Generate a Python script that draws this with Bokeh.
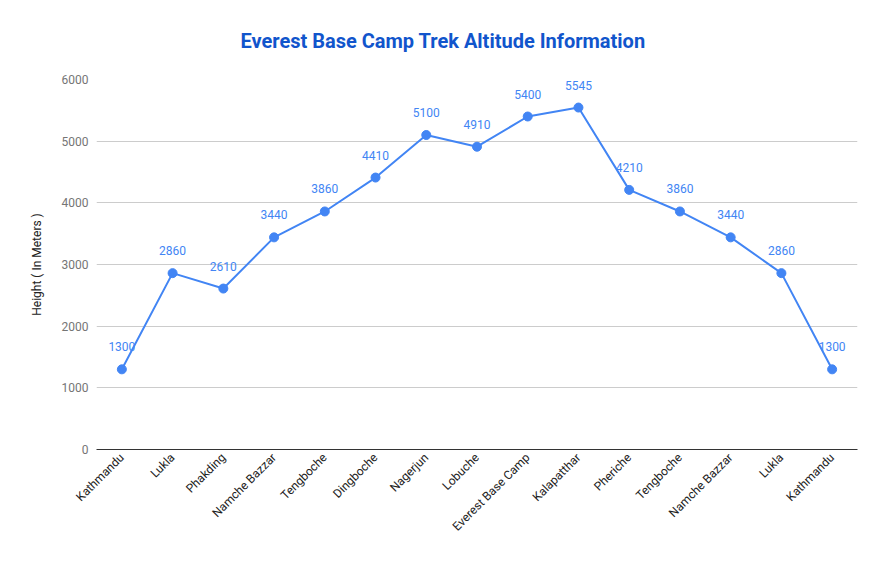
import math
from bokeh.plotting import figure
from bokeh.models import Range1d, FixedTicker, ColumnDataSource, LabelSet
from bokeh.core.properties import value
from bokeh.embed import file_html
from bokeh.resources import INLINE

places = ["Kathmandu", "Lukla", "Phakding", "Namche Bazzar", "Tengboche", "Dingboche",
          "Nagerjun", "Lobuche", "Everest Base Camp", "Kalapatthar", "Pheriche",
          "Tengboche", "Namche Bazzar", "Lukla", "Kathmandu"]
heights = [1300, 2860, 2610, 3440, 3860, 4410, 5100, 4910, 5400, 5545, 4210, 3860, 3440, 2860, 1300]
y_ticks = [0, 1000, 2000, 3000, 4000, 5000, 6000]
title_text = "Everest Base Camp Trek Altitude Information"

idx = list(range(len(places)))
src = ColumnDataSource(dict(x=idx, y=heights, lab=[str(h) for h in heights]))

p = figure(width=869, height=546, output_backend="svg", toolbar_location=None,
           x_range=Range1d(-0.5, len(places) - 0.5), y_range=Range1d(0, 6000),
           min_border_left=96, min_border_right=12, min_border_top=79, min_border_bottom=97)
p.outline_line_color = None
p.background_fill_color = "white"

p.title.text = title_text
p.title.align = "left"
p.title.offset = 144
p.title.standoff = 52
p.title.vertical_align = "middle"
p.title.text_font = "Roboto"
p.title.text_font_style = "bold"
p.title.text_font_size = "20px"
p.title.text_color = "#1155cc"

p.line("x", "y", source=src, line_color="#4285f4", line_width=2)
p.scatter("x", "y", source=src, size=9, fill_color="#4285f4", line_color="#4285f4")
labels = LabelSet(x="x", y="y", text="lab", source=src, y_offset=18, text_align="center",
                  text_baseline="bottom", text_font=value("Roboto"), text_font_size="12px",
                  text_color="#4285f4")
p.add_layout(labels)

p.xaxis.ticker = FixedTicker(ticks=idx)
p.xaxis.major_label_overrides = {i: n for i, n in enumerate(places)}
p.xaxis.major_label_orientation = math.pi / 4
p.xaxis.major_label_text_font = "Roboto"
p.xaxis.major_label_text_font_size = "12px"
p.xaxis.major_label_text_color = "#222222"
p.xaxis.major_tick_line_color = None
p.xaxis.major_tick_out = 0
p.xaxis.major_tick_in = 0
p.xaxis.minor_tick_line_color = None
p.xaxis.axis_line_color = "#333333"
p.xaxis.axis_line_width = 1
p.xaxis.major_label_standoff = 6
p.xgrid.grid_line_color = None

p.yaxis.ticker = FixedTicker(ticks=y_ticks)
p.yaxis.axis_label = "Height ( In Meters )"
p.yaxis.axis_label_text_font = "Roboto"
p.yaxis.axis_label_text_font_style = "normal"
p.yaxis.axis_label_text_font_size = "12px"
p.yaxis.axis_label_text_color = "#222222"
p.yaxis.axis_label_standoff = 15
p.yaxis.major_label_text_font = "Roboto"
p.yaxis.major_label_text_font_size = "12px"
p.yaxis.major_label_text_color = "#757575"
p.yaxis.major_tick_line_color = None
p.yaxis.major_tick_out = 0
p.yaxis.major_tick_in = 0
p.yaxis.minor_tick_line_color = None
p.yaxis.axis_line_color = None
p.yaxis.major_label_standoff = 8
p.ygrid.grid_line_color = "#cccccc"
p.ygrid.grid_line_width = 1

open("out.html", "w").write(file_html(p, INLINE))
